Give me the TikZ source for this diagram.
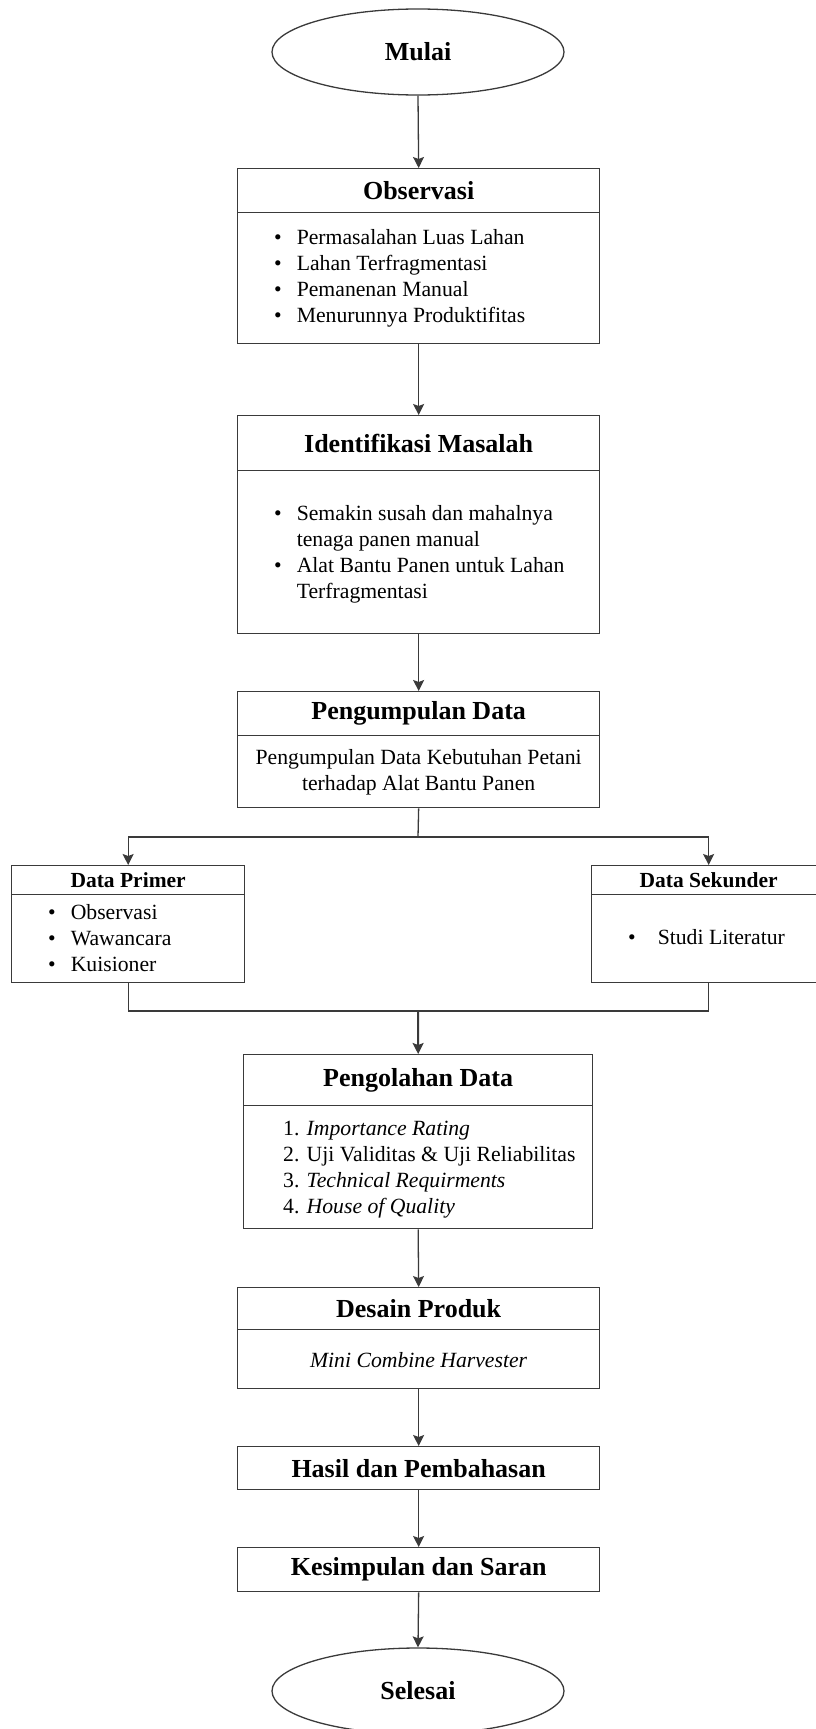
\documentclass[tikz,border=0pt]{standalone}
\usepackage{fontspec}
\setmainfont{Liberation Serif}
\usetikzlibrary{arrows.meta,shapes.geometric}
\definecolor{lc}{HTML}{3A3A3A}
\tikzset{
  part/.style={draw=lc, line width=1.3pt, rectangle, inner sep=0pt, anchor=north west},
  ttl/.style={part, font=\fontsize{26}{31}\selectfont\bfseries},
  sttl/.style={part, font=\fontsize{21.5}{26}\selectfont\bfseries},
  body/.style={part},
  txt/.style={inner sep=0pt, font=\fontsize{21.7}{26}\selectfont},
  term/.style={ellipse, draw=lc, line width=1.3pt, minimum width=292pt, minimum height=86pt, inner sep=0pt, font=\fontsize{26}{31}\selectfont\bfseries},
  arr/.style={draw=lc, line width=1.3pt, -{Stealth[width=11pt,length=11pt,inset=2pt]}},
  ln/.style={draw=lc, line width=1.3pt},
}
\begin{document}
\begin{tikzpicture}[x=1pt,y=-1pt]
\useasboundingbox (0,0) rectangle (815,1729);

% Start
\node[term] (start) at (418,52) {Mulai};

% Observasi
\node[ttl, minimum width=362pt, minimum height=44pt] (obsT) at (237,168) {Observasi};
\node[body, minimum width=362pt, minimum height=131pt] (obsB) at (237,212) {};
\node[txt, anchor=west] (obsL) at ([xshift=37pt]obsB.west) {\begin{tabular}{@{}l@{\hspace{15pt}}l@{}}
\textbullet & Permasalahan Luas Lahan\\
\textbullet & Lahan Terfragmentasi\\
\textbullet & Pemanenan Manual\\
\textbullet & Menurunnya Produktifitas
\end{tabular}};

% Identifikasi
\node[ttl, minimum width=362pt, minimum height=55pt] (idT) at (237,415) {Identifikasi Masalah};
\node[body, minimum width=362pt, minimum height=163pt] (idB) at (237,470) {};
\node[txt, anchor=west] (idL) at ([xshift=37pt,yshift=-2pt]idB.west) {\begin{tabular}{@{}l@{\hspace{15pt}}l@{}}
\textbullet & Semakin susah dan mahalnya\\
 & tenaga panen manual\\
\textbullet & Alat Bantu Panen untuk Lahan\\
 & Terfragmentasi
\end{tabular}};

% Pengumpulan
\node[ttl, minimum width=362pt, minimum height=44pt] (pgT) at (237,691) {Pengumpulan Data};
\node[body, minimum width=362pt, minimum height=72pt] (pgB) at (237,735) {};
\node[txt, align=center] (pgL) at ([yshift=-1pt]pgB.center) {Pengumpulan Data Kebutuhan Petani\\terhadap Alat Bantu Panen};

% Data Primer
\node[sttl, minimum width=233pt, minimum height=29pt] (prT) at (11,865) {Data Primer};
\node[body, minimum width=233pt, minimum height=88pt] (prB) at (11,894) {};
\node[txt, anchor=west] (prL) at ([xshift=37pt,yshift=-2pt]prB.west) {\begin{tabular}{@{}l@{\hspace{15pt}}l@{}}
\textbullet & Observasi\\
\textbullet & Wawancara\\
\textbullet & Kuisioner
\end{tabular}};

% Data Sekunder
\node[sttl, minimum width=234pt, minimum height=29pt] (skT) at (591,865) {Data Sekunder};
\node[body, minimum width=234pt, minimum height=88pt] (skB) at (591,894) {};
\node[txt, anchor=west] (skL) at ([xshift=37pt,yshift=-1pt]skB.west) {\begin{tabular}{@{}l@{\hspace{22pt}}l@{}}
\textbullet & Studi Literatur
\end{tabular}};

% Pengolahan
\node[ttl, minimum width=349pt, minimum height=51pt] (poT) at (243,1054) {Pengolahan Data};
\node[body, minimum width=349pt, minimum height=123pt] (poB) at (243,1105) {};
\node[txt, anchor=west] (poL) at ([xshift=40pt,yshift=-2pt]poB.west) {\begin{tabular}{@{}l@{}}
1. \textit{Importance Rating}\\
2. Uji Validitas \& Uji Reliabilitas\\
3. \textit{Technical Requirments}\\
4. \textit{House of Quality}
\end{tabular}};

% Desain
\node[ttl, minimum width=362pt, minimum height=42pt] (dsT) at (237,1287) {Desain Produk};
\node[body, minimum width=362pt, minimum height=59pt] (dsB) at (237,1329) {};
\node[txt] (dsL) at ([yshift=-1pt]dsB.center) {\textit{Mini Combine Harvester}};

% Hasil
\node[ttl, minimum width=362pt, minimum height=43pt] (hsT) at (237,1446) {Hasil dan Pembahasan};
% Kesimpulan
\node[ttl, minimum width=362pt, minimum height=44pt] (ksT) at (237,1547) {Kesimpulan dan Saran};

% End
\node[term] (end) at (418,1691) {Selesai};

% Connectors
\draw[arr] (start.south) -- (obsT.north);
\draw[arr] (obsB.south) -- (idT.north);
\draw[arr] (idB.south) -- (pgT.north);
\coordinate (sp) at (418,837);
\draw[ln] (pgB.south) -- (sp);
\draw[arr] (sp) -| (prT.north);
\draw[arr] (sp) -| (skT.north);
\coordinate (mg) at (418,1011);
\draw[ln] (prB.south) |- (mg);
\draw[ln] (skB.south) |- (mg);
\draw[arr, line width=2pt] (mg) -- (poT.north);
\draw[arr] (poB.south) -- (dsT.north);
\draw[arr] (dsB.south) -- (hsT.north);
\draw[arr] (hsT.south) -- (ksT.north);
\draw[arr] (ksT.south) -- (end.north);
\end{tikzpicture}
\end{document}
